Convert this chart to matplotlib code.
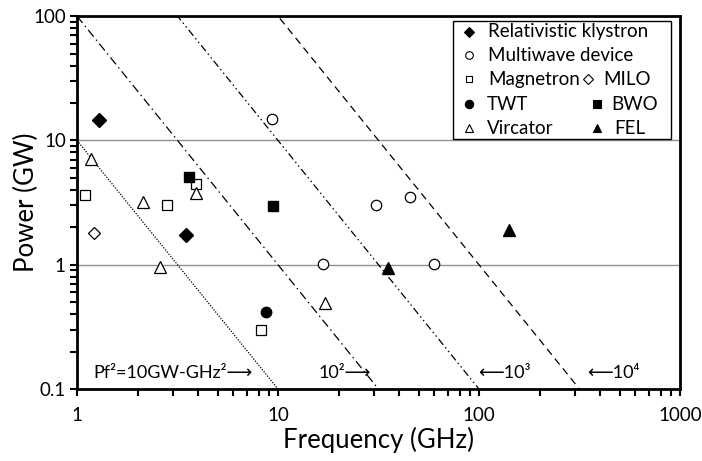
import matplotlib
matplotlib.use("Agg")
import matplotlib.pyplot as plt
import numpy as np
from matplotlib.patches import Rectangle

plt.rcParams['font.family'] = ['Lato', 'DejaVu Sans']

# Data (frequency GHz, power GW)
klystron_f = [1.29, 3.47]
klystron_p = [14.5, 1.73]
multiwave_f = [9.3, 30.6, 45.4, 16.8, 60.0]
multiwave_p = [14.8, 3.03, 3.52, 1.02, 1.02]
magnetron_f = [1.09, 2.79, 3.89, 8.2]
magnetron_p = [3.63, 3.03, 4.5, 0.30]
milo_f = [1.215]
milo_p = [1.8]
twt_f = [8.72]
twt_p = [0.42]
bwo_f = [3.62, 9.41]
bwo_p = [5.09, 2.98]
vircator_f = [1.18, 2.13, 3.89, 2.6, 17.1]
vircator_p = [7.06, 3.17, 3.77, 0.96, 0.49]
fel_f = [141.5, 35.1]
fel_p = [1.92, 0.95]

pf2_consts = [10, 100, 1000, 10000]
x_ticks = [1, 10, 100, 1000]
x_ticklabels = ['1', '10', '100', '1000']
y_ticks = [0.1, 1, 10, 100]
y_ticklabels = ['0.1', '1', '10', '100']

fig = plt.figure(figsize=(7.02, 4.61), dpi=100)
ax = fig.add_axes([0.1097, 0.156, 0.859, 0.809])
ax.set_xscale('log')
ax.set_yscale('log')
ax.set_xlim(1, 1000)
ax.set_ylim(0.1, 100)

# grid lines
for g in [1, 10]:
    ax.axhline(g, color='#909090', lw=1.0, zorder=1)

# constant Pf^2 lines
f = np.logspace(0, 3, 400)
styles = [
    dict(ls=(0, (1, 1.2)), lw=0.9),
    dict(ls=(0, (7, 3, 1.2, 3)), lw=0.9),
    dict(ls=(0, (6, 2.5, 1.2, 2.5, 1.2, 2.5)), lw=0.9),
    dict(ls=(0, (6, 4)), lw=0.9),
]
for c, st in zip(pf2_consts, styles):
    ax.plot(f, c / f**2, color='black', zorder=2, **st)

mk = dict(linestyle='none', zorder=4, clip_on=False)
ax.plot(klystron_f, klystron_p, marker='D', ms=7, mfc='black', mec='black', **mk)
ax.plot(multiwave_f, multiwave_p, marker='o', ms=7.5, mfc='white', mec='black', mew=0.9, **mk)
ax.plot(magnetron_f, magnetron_p, marker='s', ms=6.5, mfc='white', mec='black', mew=0.9, **mk)
ax.plot(milo_f, milo_p, marker='D', ms=6.5, mfc='white', mec='black', mew=0.9, **mk)
ax.plot(twt_f, twt_p, marker='o', ms=7.5, mfc='black', mec='black', **mk)
ax.plot(bwo_f, bwo_p, marker='s', ms=7, mfc='black', mec='black', **mk)
ax.plot(vircator_f, vircator_p, marker='^', ms=8, mfc='white', mec='black', mew=0.9, **mk)
ax.plot(fel_f, fel_p, marker='^', ms=8, mfc='black', mec='black', **mk)

# spines & ticks
for s in ax.spines.values():
    s.set_linewidth(2.0)
ax.tick_params(which='both', direction='out', length=5, width=1.5, top=False, right=False)
ax.tick_params(which='major', labelsize=13.5)
ax.tick_params(axis='x', which='major', pad=8)
ax.tick_params(axis='y', which='major', pad=3)
ax.set_xticks(x_ticks)
ax.set_xticklabels(x_ticklabels)
ax.set_yticks(y_ticks)
ax.set_yticklabels(y_ticklabels)
ax.xaxis.set_minor_formatter(matplotlib.ticker.NullFormatter())
ax.yaxis.set_minor_formatter(matplotlib.ticker.NullFormatter())

ax.set_xlabel('Frequency (GHz)', fontsize=18.5, labelpad=2)
ax.set_ylabel('Power (GW)', fontsize=18.5, labelpad=-4)

# annotations
tfs = 13
ty = 0.042
ax.text(0.027, ty, 'Pf\u00b2=10GW-GHz\u00b2\u27f6', transform=ax.transAxes, fontsize=tfs, va='center', ha='left')
ax.text(0.40, ty, '10\u00b2\u27f6', transform=ax.transAxes, fontsize=tfs, va='center', ha='left')
ax.text(0.665, ty, '\u27f510\u00b3', transform=ax.transAxes, fontsize=tfs, va='center', ha='left')
ax.text(0.846, ty, '\u27f510\u2074', transform=ax.transAxes, fontsize=tfs, va='center', ha='left')

# manual legend
def px2ax(x, y):
    return ((x - 77) / 603.0, (389 - y) / 373.0)

x0, y0 = px2ax(452.7, 139.3)
x1, y1 = px2ax(671, 20.7)
ax.add_patch(Rectangle((x0, y0), x1 - x0, y1 - y0, transform=ax.transAxes,
                       facecolor='white', edgecolor='black', lw=1.0, zorder=5))
lfs = 13.5
entries = [
    (469.3, 31.7, 'D', 'black', 5.5, 488.3, 'Relativistic klystron'),
    (469.3, 55.0, 'o', 'white', 5.5, 488.3, 'Multiwave device'),
    (469.3, 79.0, 's', 'white', 5.0, 488.3, 'Magnetron'),
    (469.3, 104.0, 'o', 'black', 6.0, 487.0, 'TWT'),
    (469.3, 128.0, '^', 'white', 6.0, 487.0, 'Vircator'),
    (588.0, 79.0, 'D', 'white', 5.0, 603.0, 'MILO'),
    (596.7, 104.0, 's', 'black', 5.5, 611.7, 'BWO'),
    (596.7, 128.0, '^', 'black', 6.0, 614.0, 'FEL'),
]
for mx, my, m, fc, ms, tx, lab in entries:
    ax_, ay_ = px2ax(mx, my)
    ax.plot([ax_], [ay_], marker=m, ms=ms, mfc=fc, mec='black', mew=0.8,
            transform=ax.transAxes, zorder=6, clip_on=False, linestyle='none')
    tx_, ty_ = px2ax(tx, my)
    ax.text(tx_, ty_, lab, transform=ax.transAxes, fontsize=lfs, va='center', ha='left', zorder=6)

fig.savefig('out.png', dpi=100)
